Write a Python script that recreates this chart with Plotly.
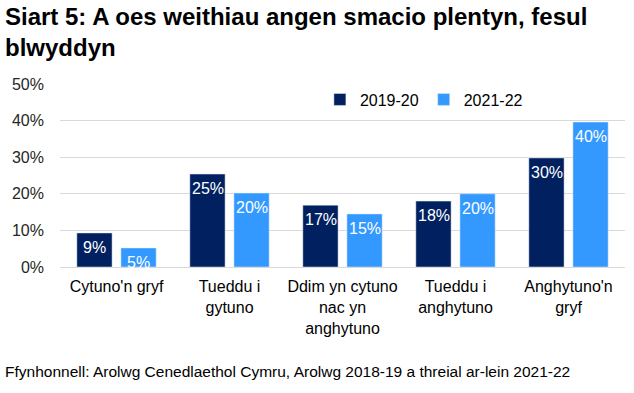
import plotly.graph_objects as go

categories = ["Cytuno'n gryf", "Tueddu i<br>gytuno", "Ddim yn cytuno<br>nac yn<br>anghytuno",
              "Tueddu i<br>anghytuno", "Anghytuno'n<br>gryf"]
series_names = ["2019-20", "2021-22"]
values_2019 = [9.3, 25.4, 16.9, 18.0, 29.8]
values_2021 = [5.2, 20.2, 14.5, 20.0, 39.6]
labels_2019 = ["9%", "25%", "17%", "18%", "30%"]
labels_2021 = ["5%", "20%", "15%", "20%", "40%"]
tick_vals = [0, 10, 20, 30, 40, 50]
tick_text = ["0%", "10%", "20%", "30%", "40%", "50%"]

colors = ["#002060", "#3399FF"]
font = "Liberation Sans, Arial, sans-serif"

fig = go.Figure()
for name, vals, col in zip(series_names, [values_2019, values_2021], colors):
    fig.add_trace(go.Bar(x=categories, y=vals, name=name, marker_color=col, hoverinfo="skip"))

# value labels, placed at each bar top through the axes
for labs, vals, shift in [(labels_2019, values_2019, -22), (labels_2021, values_2021, 22)]:
    for cat, v, lab in zip(categories, vals, labs):
        fig.add_annotation(x=cat, y=v, xref="x", yref="y", text=lab, showarrow=False,
                           xshift=shift, yshift=-4, yanchor="top", xanchor="center",
                           font=dict(color="white", size=16, family=font))

fig.update_layout(
    width=634, height=393,
    margin=dict(l=60, r=9, t=84, b=126, autoexpand=False),
    paper_bgcolor="white", plot_bgcolor="white",
    barmode="group", bargap=0.22, bargroupgap=0.2,
    font=dict(family=font, size=16, color="#000000"),
    legend=dict(orientation="h", x=0.46, y=1.008, xanchor="left", yanchor="top",
                font=dict(size=16, family=font), bgcolor="rgba(0,0,0,0)",
                itemwidth=30, traceorder="normal"),
    showlegend=True,
)
fig.update_yaxes(range=[0, 50], tickvals=tick_vals, ticktext=tick_text,
                 showgrid=True, gridcolor="#D9D9D9", gridwidth=1,
                 zeroline=True, zerolinecolor="#D9D9D9", zerolinewidth=1,
                 showline=False, ticks="", ticklabelstandoff=15, automargin=False,
                 tickfont=dict(size=16, color="#262626"))
fig.update_xaxes(showline=False, ticks="", tickfont=dict(size=16, color="#000000"),
                 tickangle=0, automargin=False, ticklabelstandoff=8)

fig.add_annotation(text="<b>Siart 5: A oes weithiau angen smacio plentyn, fesul<br>blwyddyn</b>",
                   xref="paper", yref="paper", x=-0.101, y=1.452, xanchor="left", yanchor="top",
                   align="left", showarrow=False,
                   font=dict(size=24, family=font, color="#000000"))
fig.add_annotation(text="Ffynhonnell: Arolwg Cenedlaethol Cymru, Arolwg 2018-19 a threial ar-lein 2021-22",
                   xref="paper", yref="paper", x=-0.101, y=-0.514, xanchor="left", yanchor="top",
                   showarrow=False, font=dict(size=15.5, family=font, color="#000000"))

fig.write_html("out.html", config={"displayModeBar": False},
               post_script="document.body.style.margin='0';")
